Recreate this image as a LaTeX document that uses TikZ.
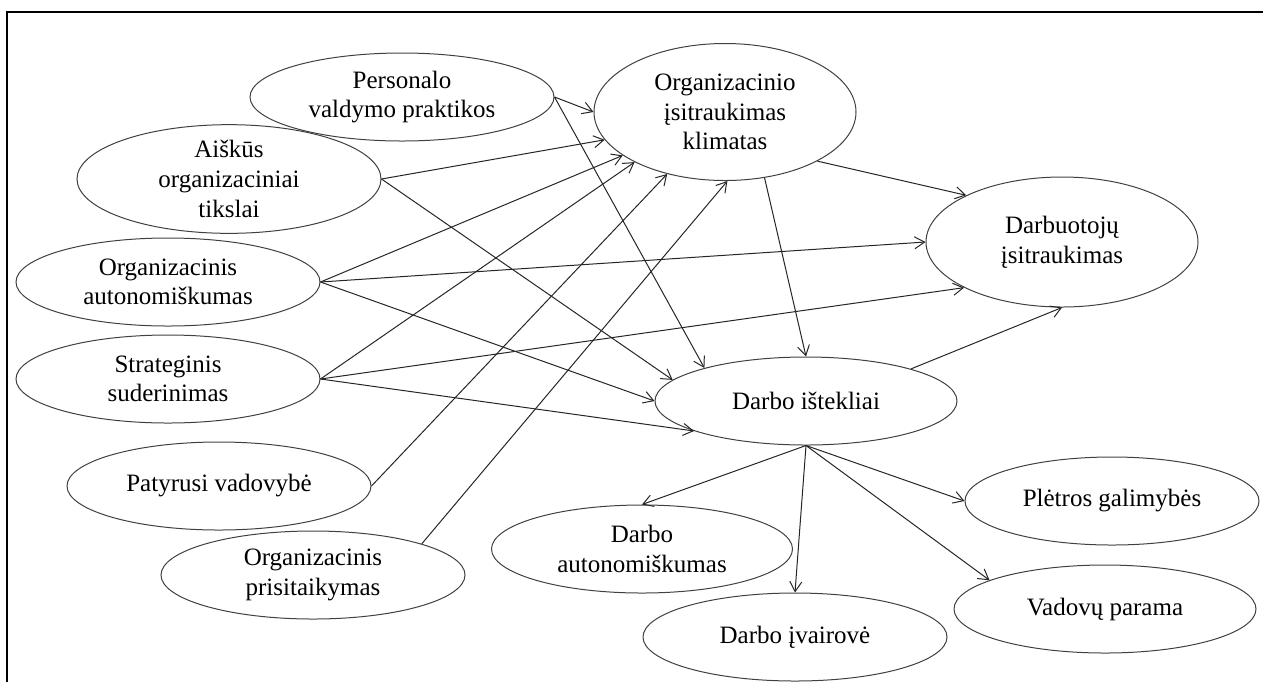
\documentclass[tikz,border=0pt]{standalone}
\usepackage{fontspec}
\setmainfont{Liberation Serif}
\usetikzlibrary{arrows.meta,shapes.geometric}

\begin{document}
\begin{tikzpicture}[x=0.5pt,y=-0.5pt,every node/.style={font=\fontsize{12.5}{14.8}\selectfont},
      oval/.style={draw=black!75,line width=0.5pt,ellipse,inner sep=0pt,align=center,minimum width=152pt,minimum height=44pt},
      arr/.style={draw=black!85,line width=0.5pt,-{Straight Barb[length=5pt,width=6pt]}}]
    \useasboundingbox (0,0) rectangle (1263,682);
    \draw[line width=1pt] (7,682) -- (7,12) -- (1263,12);
    % Veiksniai
    \node[oval] (prakt)   at (402,97)  {Personalo\\valdymo praktikos};
    \node[oval] (tiksl)   at (229,179) {Aiškūs\\organizaciniai\\tikslai};
    \node[oval] (autonom) at (168,282) {Organizacinis\\autonomiškumas};
    \node[oval] (strat)   at (168,379) {Strateginis\\suderinimas};
    \node[oval] (vadov)   at (219,486) {Patyrusi vadovybė};
    \node[oval] (prisit)  at (313,575) {Organizacinis\\prisitaikymas};
    % Klimatas ir rezultatas
    \node[oval,minimum width=131pt,minimum height=68.5pt] (klimat) at (725,112) {Organizacinio\\įsitraukimas\\klimatas};
    \node[oval,minimum width=136pt,minimum height=65pt]   (isitr)  at (1062,242) {Darbuotojų\\įsitraukimas};
    \node[oval,minimum width=151pt] (istekl) at (806,401) {Darbo ištekliai};
    % Darbo ištekliai
    \node[oval,minimum width=150.5pt] (dautonom) at (642,549)  {Darbo\\autonomiškumas};
    \node[oval] (ivair) at (795,637)  {Darbo įvairovė};
    \node[oval,minimum width=147pt] (pletr) at (1112,501) {Plėtros galimybės};
    \node[oval,minimum width=151pt] (param) at (1105,609) {Vadovų parama};
    \foreach \a/\b in {prakt.east/klimat.west,tiksl.east/klimat.193,autonom.east/klimat.203,
        strat.east/klimat.209,vadov.east/klimat.227,prisit.16/klimat.272}{\draw[arr](\a)--(\b);}
    \foreach \a/\b in {prakt.east/istekl.162,tiksl.east/istekl.171,autonom.east/istekl.west,
        strat.east/istekl.195,klimat.301/istekl.north}{\draw[arr](\a)--(\b);}
    \foreach \a/\b in {klimat.332/isitr.154,autonom.east/isitr.west,strat.east/isitr.205,
        istekl.17/isitr.south}{\draw[arr](\a)--(\b);}
    \foreach \b in {dautonom.north,ivair.north,pletr.west,param.166}{\draw[arr](istekl.south)--(\b);}
  \end{tikzpicture}
\end{document}
